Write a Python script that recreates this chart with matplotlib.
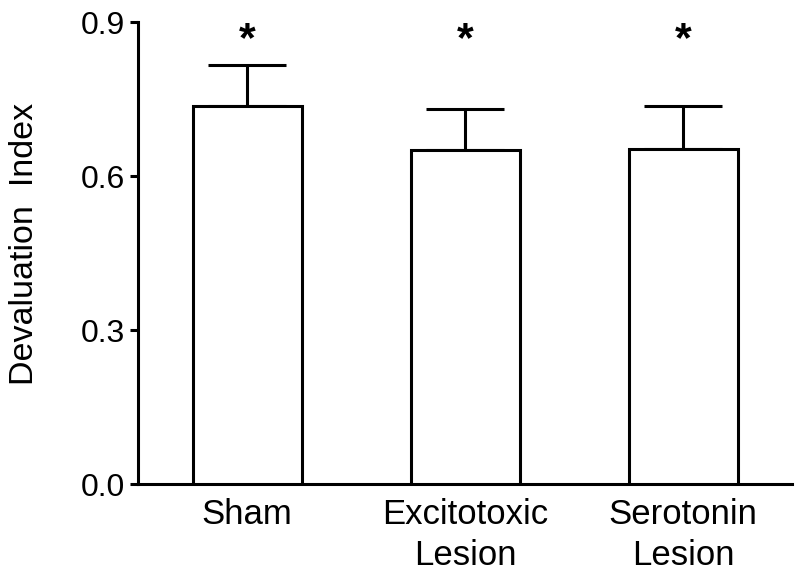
import matplotlib
matplotlib.use('Agg')
import matplotlib.pyplot as plt

plt.rcParams['font.family'] = ['Liberation Sans', 'DejaVu Sans']

# data
groups = ['Sham', 'Excitotoxic\nLesion', 'Serotonin\nLesion']
means = [0.736, 0.650, 0.653]
sem = [0.081, 0.081, 0.084]
stars = ['*', '*', '*']

fig = plt.figure(figsize=(8, 5.73), dpi=100)
ax = fig.add_axes([0.1725, 0.155, 0.8175, 0.8065])

x = list(range(len(groups)))
ax.bar(x, means, width=0.5, color='white', edgecolor='black', linewidth=2.2, zorder=3)
# upper error bars only
ax.errorbar(x, means, yerr=[[0] * len(x), sem], fmt='none', ecolor='black',
            elinewidth=2.2, capsize=28, capthick=2.2, zorder=2)

for xi, s in zip(x, stars):
    ax.text(xi, 0.843, s, ha='center', va='baseline', fontsize=31, fontweight='bold')

ax.set_xlim(-0.5, 2.5)
ax.set_ylim(0, 0.9)
ax.set_yticks([0.0, 0.3, 0.6, 0.9])
ax.set_yticklabels(['0.0', '0.3', '0.6', '0.9'])
ax.set_xticks(x)
ax.set_xticklabels(groups, fontsize=25, linespacing=1.32)
ax.tick_params(axis='x', length=0, pad=10)
ax.tick_params(axis='y', labelsize=23, length=6, width=2.2, pad=3)

for side in ['top', 'right']:
    ax.spines[side].set_visible(False)
for side in ['left', 'bottom']:
    ax.spines[side].set_linewidth(2.2)

ax.set_ylabel('Devaluation  Index', fontsize=24.5)
ax.yaxis.set_label_coords(-0.15, 0.52)

fig.savefig('out.png', dpi=100)
